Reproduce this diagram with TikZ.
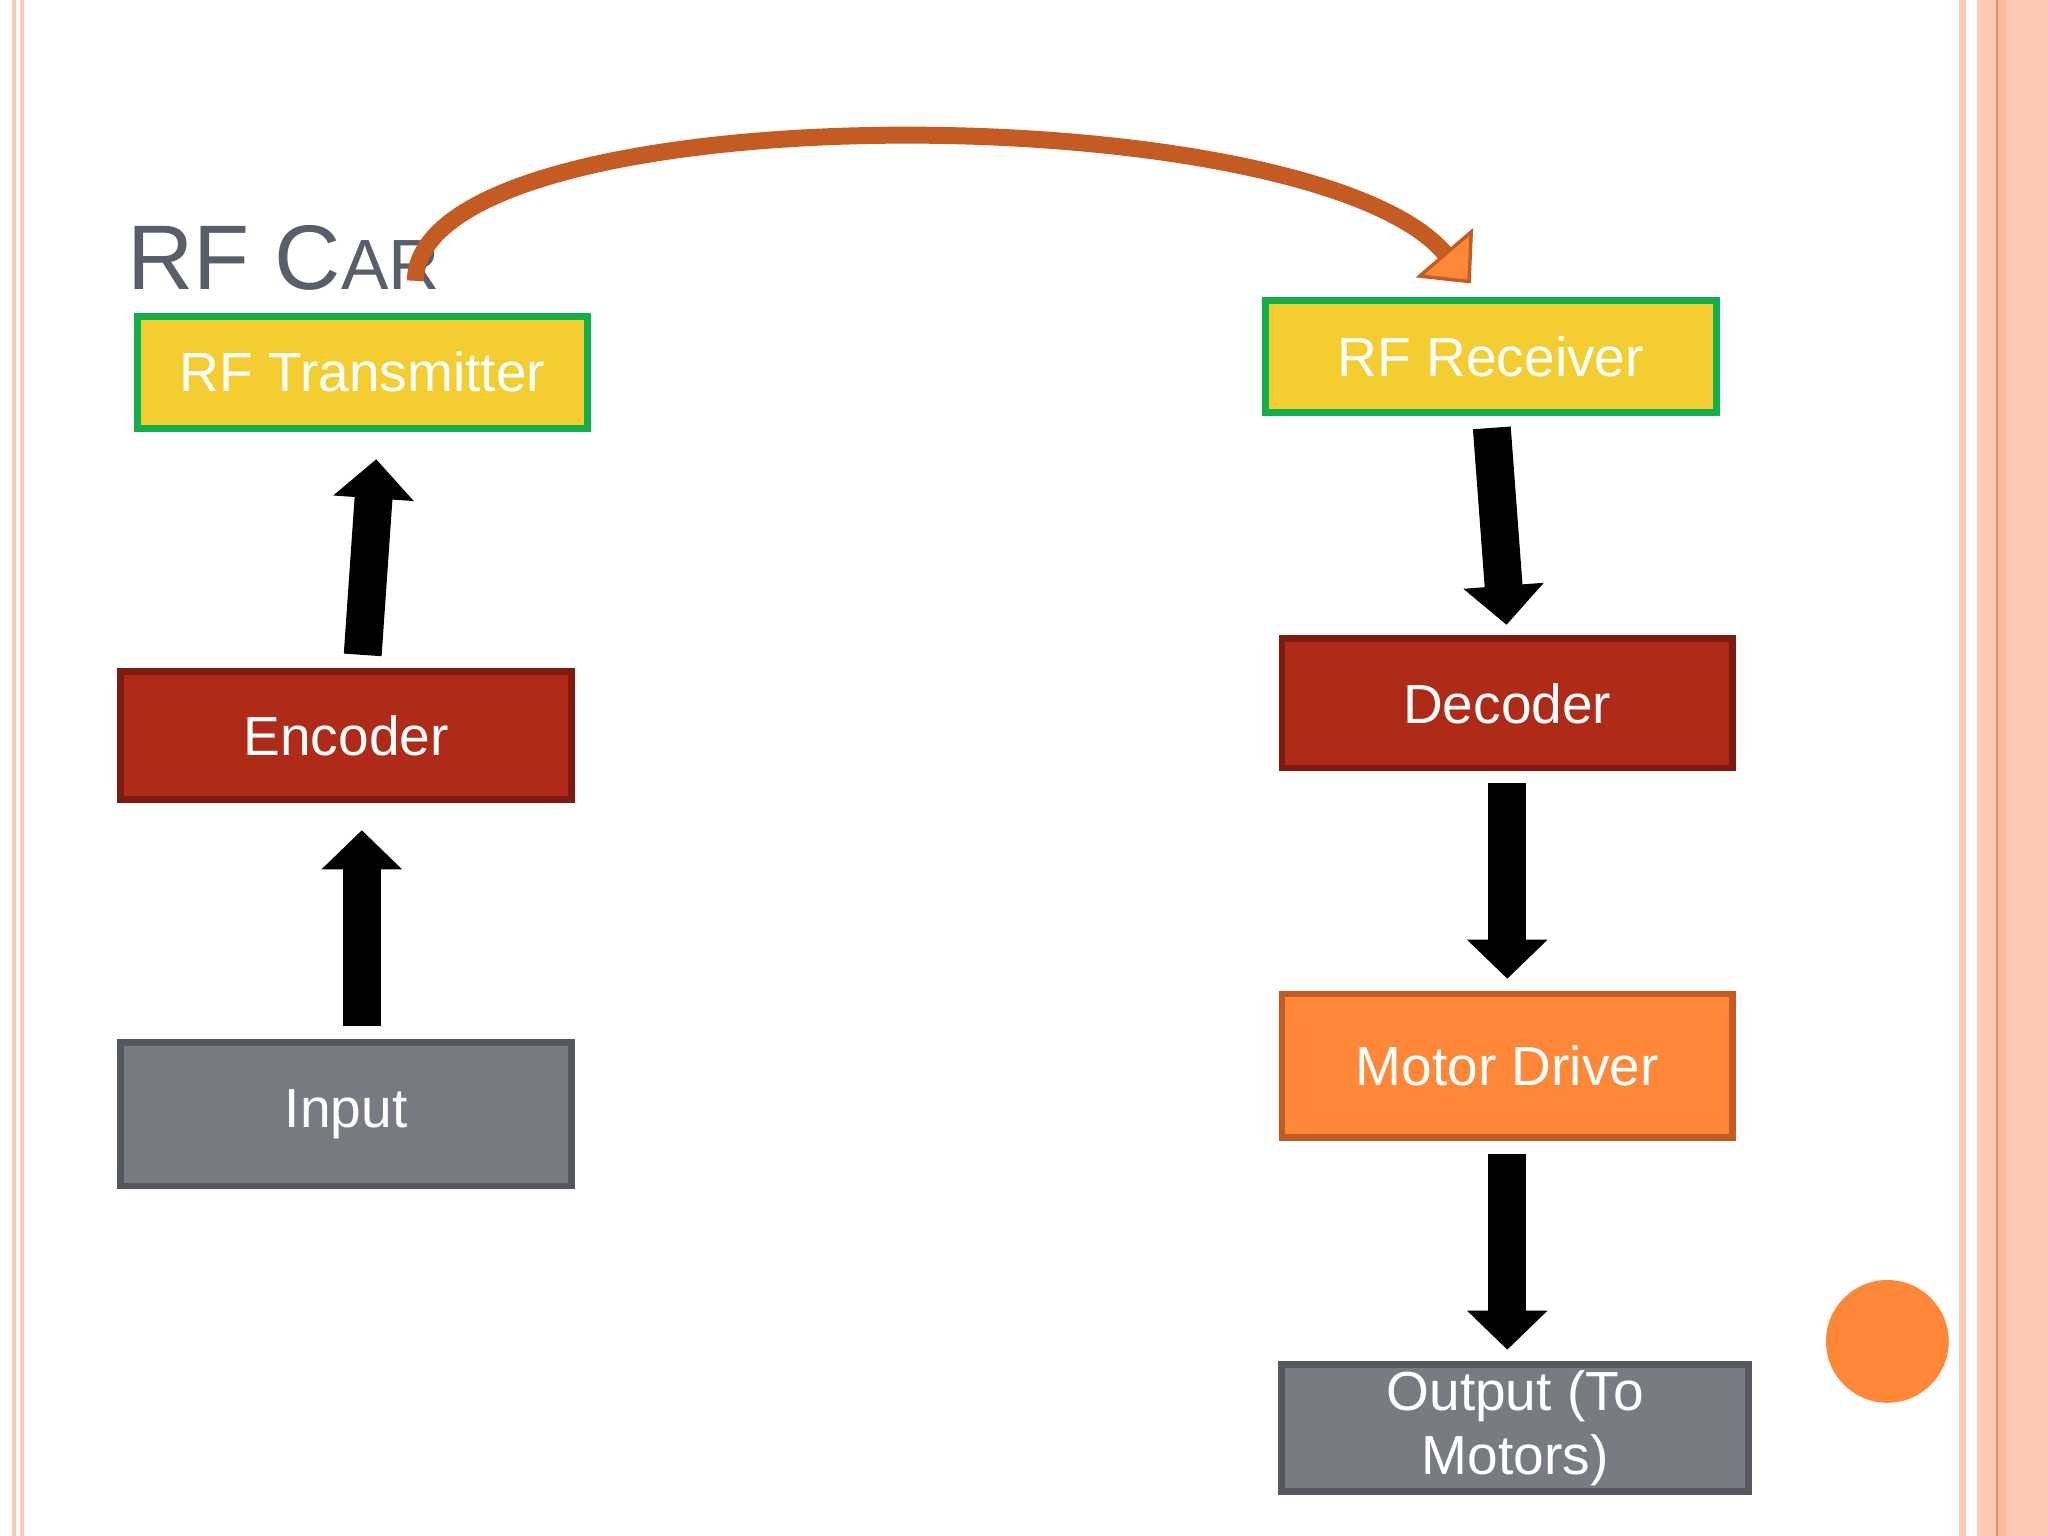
\documentclass[tikz,border=0pt]{standalone}
\usepackage{fontspec}
\setmainfont{Liberation Sans}
\usetikzlibrary{arrows.meta}
\definecolor{pale}{HTML}{FDC8B4}
\definecolor{bor}{HTML}{F5894F}
\definecolor{yel}{HTML}{F4CE30}
\definecolor{grn}{HTML}{12AF4B}
\definecolor{red1}{HTML}{B02A18}
\definecolor{red2}{HTML}{7E1A10}
\definecolor{gry1}{HTML}{787B82}
\definecolor{gry2}{HTML}{54575E}
\definecolor{ora1}{HTML}{FF8838}
\definecolor{ora2}{HTML}{C45B22}
\definecolor{ttl}{HTML}{5A5E6A}
\begin{document}
\begin{tikzpicture}[x=0.02cm,y=-0.02cm,
  box/.style={draw, line width=3pt, minimum width=6.9cm, text=white, font=\fontsize{24}{28}\selectfont, align=center, inner sep=0pt},
  blk/.style={line width=0.58cm, -{Triangle[length=0.6cm,width=1.2cm]}}]
\useasboundingbox (0,0) rectangle (1568,1176);
\fill[white] (0,0) rectangle (1568,1176);
% borders
\fill[pale] (9,0) rectangle (12,1176);
\fill[pale] (15,0) rectangle (18,1176);
\fill[pale] (1500,0) rectangle (1505,1176);
\fill[pale] (1514,0) rectangle (1568,1176);
\fill[pale!80!bor] (1529,0) rectangle (1536,1176);
\fill[bor] (1528,0) rectangle (1530,1176);
\fill[ora1] (1445,1027) circle (47);
% title
\node[anchor=base west, text=ttl, inner sep=0pt] at (97,222) {\fontsize{40}{40}\selectfont RF C\fontsize{31}{31}\selectfont AR};
% boxes
\node[box, fill=yel, draw=grn, minimum height=1.72cm] (tx) at (277.5,285) {RF Transmitter};
\node[box, fill=red1, draw=red2, minimum height=1.96cm] (enc) at (265,563) {Encoder};
\node[box, fill=gry1, draw=gry2, minimum height=2.2cm] (in) at (265,853) {Input};
\node[box, fill=yel, draw=grn, minimum height=1.72cm] (rx) at (1141.5,273) {RF Receiver};
\node[box, fill=red1, draw=red2, minimum height=1.98cm] (dec) at (1154,538.5) {Decoder};
\node[box, fill=ora1, draw=ora2, minimum height=2.2cm] (md) at (1154,816) {Motor Driver};
\node[box, fill=gry1, draw=gry2, minimum height=1.94cm, minimum width=7.15cm] (out) at (1160,1093.5) {Output (To\\Motors)};
% block arrows
\draw[blk, shorten <=0.2cm, shorten >=0.42cm] ([xshift=0.24cm]enc.north) -- ([xshift=0.24cm]tx.south);
\draw[blk, shorten <=0.2cm, shorten >=0.42cm] ([xshift=0.24cm]in.north) -- ([xshift=0.24cm]enc.south);
\draw[blk, shorten <=0.18cm, shorten >=0.16cm] (rx.south) -- (dec.north);
\draw[blk, shorten <=0.18cm, shorten >=0.18cm] (dec.south) -- (md.north);
\draw[blk, shorten <=0.2cm, shorten >=0.18cm] (md.south) -- (out.north -| md.south);
% curved arrow
\coordinate (c1) at (318,215);
\coordinate (c2) at (1126,217);
\draw[line width=0.26cm, ora2, -{Triangle[length=0.62cm,width=1.15cm,fill=ora1,line width=1.5pt]}]
  (c1) .. controls (320,70) and (1000,70) .. (c2);
\end{tikzpicture}
\end{document}
